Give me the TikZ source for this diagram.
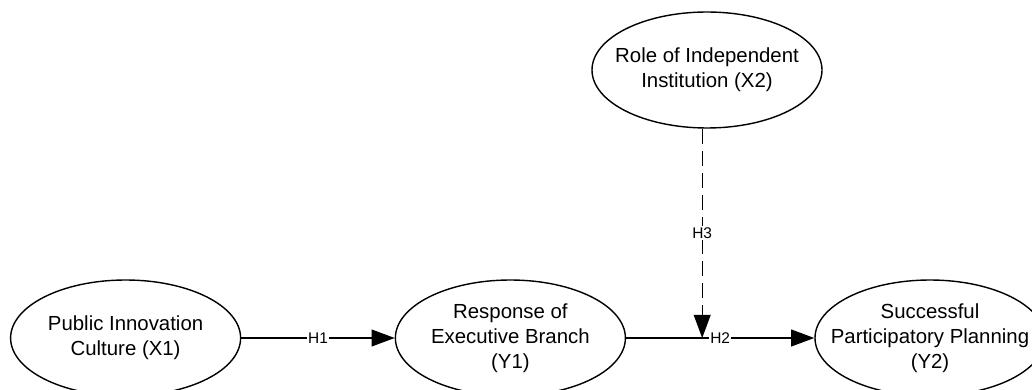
\documentclass[tikz,border=0pt]{standalone}
\usepackage{fontspec}
\setmainfont{Liberation Sans}
\usetikzlibrary{positioning, calc, arrows.meta, shapes.geometric}

\begin{document}
\begin{tikzpicture}[
  >={Triangle[length=16.5pt, width=12pt]}, line width=1pt,
  var/.style  = {draw, ellipse, minimum width=5.75cm, minimum height=2.9cm,
                 inner xsep=-0.6cm, inner ysep=-0.3cm, align=center,
                 font=\fontsize{14.5}{17.8}\selectfont},
  hyp/.style  = {fill=white, inner sep=1pt, font=\fontsize{11}{13}\selectfont},
]
  \useasboundingbox (0,0) rectangle (25.8,9.725);

  % ── constructs ────────────────────────────────────────────────────────
  \node[var] (x1) at (3.14, 1.275)   {Public Innovation\\Culture (X1)};
  \node[var] (y1) at (12.76, 1.275)  {Response of\\Executive Branch\\(Y1)};
  \node[var] (y2) at (23.25, 1.275)  {Successful\\Participatory Planning\\(Y2)};
  \node[var] (x2) at (17.675, 7.975) {Role of Independent\\Institution (X2)};

  % ── direct paths ──────────────────────────────────────────────────────
  \draw[->] (x1) -- node[hyp]{H1} (y1);
  \draw[->] (y1) -- node[hyp]{H2} (y2);

  % moderator hits the Y1 -> Y2 path, dashed
  \coordinate (xtop) at ($(x2.south)+(-0.12,0)$);
  \coordinate (xjn)  at (xtop |- y1.east);
  \draw[->, dash pattern=on 10.7pt off 5pt] (xtop) -- node[hyp]{H3} (xjn);

\end{tikzpicture}
\end{document}
